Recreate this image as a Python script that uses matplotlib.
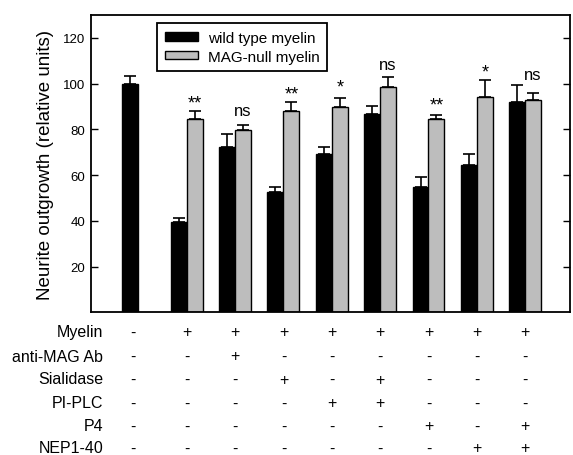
import numpy as np
import matplotlib.pyplot as plt
import matplotlib.transforms as mtransforms

plt.rcParams['font.family'] = ['Liberation Sans', 'DejaVu Sans']

# group 0 is the no-myelin control (only a black bar)
wt_mean = [100, 39.6, 72.3, 52.5, 69.1, 86.5, 54.9, 64.5, 91.9]
wt_err = [3.5, 1.8, 5.6, 2.4, 3.3, 3.5, 4.4, 4.5, 7.5]
null_mean = [np.nan, 84.3, 79.7, 88.0, 89.9, 98.6, 84.3, 94.2, 93.0]
null_err = [np.nan, 3.7, 2.3, 3.9, 4.0, 4.4, 2.1, 7.2, 2.8]

sig_labels = ['', '**', 'ns', '**', '*', 'ns', '**', '*', 'ns']
sig_y = [np.nan, 89.4, 86.1, 93.3, 96.7, 106.5, 88.6, 103.3, 102.0]

row_names = ['Myelin', 'anti-MAG Ab', 'Sialidase', 'PI-PLC', 'P4', 'NEP1-40']
row_signs = [
    '-++++++++',
    '--+------',
    '---+-+---',
    '----++---',
    '------+-+',
    '-------++',
]

x = np.arange(len(wt_mean))
w = 0.33
gray = '#bdbdbd'

fig = plt.figure(figsize=(5.73, 4.56), dpi=100)
ax = fig.add_axes([0.158, 0.313, 0.837, 0.652])

xb = x - w / 2
xg = x + w / 2

ax.bar(xb, wt_mean, w, color='black', edgecolor='black', linewidth=1, label='wild type myelin', zorder=2)
ax.bar(xg[1:], null_mean[1:], w, color=gray, edgecolor='black', linewidth=1, label='MAG-null myelin', zorder=2)

ax.errorbar(xb, wt_mean, yerr=[np.zeros(len(wt_err)), wt_err], fmt='none', ecolor='black',
            elinewidth=1.2, capsize=4.5, capthick=1.2, zorder=1)
ax.errorbar(xg[1:], null_mean[1:], yerr=[np.zeros(len(x) - 1), null_err[1:]], fmt='none', ecolor='black',
            elinewidth=1.2, capsize=4.5, capthick=1.2, zorder=1)

for i in range(1, len(x)):
    fs = 12 if sig_labels[i] == 'ns' else 13
    ax.text(xg[i], sig_y[i], sig_labels[i], ha='center', va='baseline', fontsize=fs)

ax.set_xlim(-0.99, 8.93)
ax.set_ylim(0, 130)
ax.set_yticks([20, 40, 60, 80, 100, 120])
ax.set_xticks([])
ax.tick_params(axis='y', direction='in', length=5, width=1, right=True, labelsize=9.5, pad=4)
for s in ax.spines.values():
    s.set_linewidth(1.3)
ax.set_ylabel('Neurite outgrowth (relative units)', fontsize=13.5, labelpad=6)

leg = ax.legend(loc='upper left', bbox_to_anchor=(0.139, 0.972), borderaxespad=0, fontsize=11,
                fancybox=False, edgecolor='black', framealpha=1, handlelength=2.2, handleheight=0.45,
                handletextpad=0.6, borderpad=0.5, labelspacing=0.3)
leg.get_frame().set_linewidth(1.3)

# treatment table below the axes
trans = mtransforms.blended_transform_factory(ax.transData, fig.transFigure)
row_px = [333, 357, 380, 404, 427, 449]
for r, name in enumerate(row_names):
    yf = 1 - row_px[r] / 456
    fig.text(103 / 573, yf, name, ha='right', va='center', fontsize=11.5)
    for i, c in enumerate(row_signs[r]):
        xp = xb[0] + 0.05 if i == 0 else x[i]
        ax.text(xp, yf, c, transform=trans, ha='center', va='center', fontsize=11.5)

fig.savefig('out.png', dpi=100)
